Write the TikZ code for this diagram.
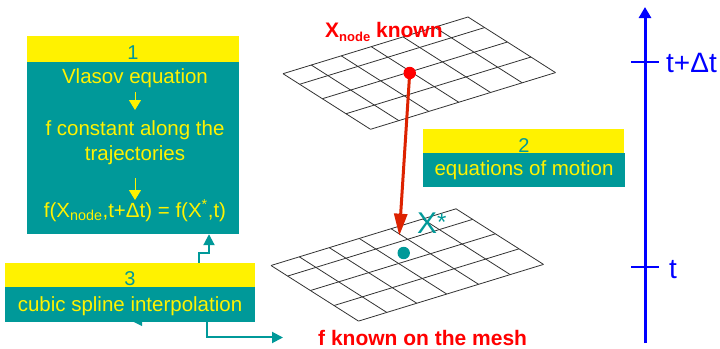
\documentclass[tikz,border=0pt]{standalone}
\usepackage{fontspec}
\setmainfont{Liberation Sans}
\usetikzlibrary{arrows.meta,calc}
\definecolor{tealc}{RGB}{0,153,153}
\definecolor{arrred}{RGB}{221,34,0}
\definecolor{gridc}{RGB}{50,50,50}
\tikzset{
  gridline/.style={draw=gridc, line width=0.8pt},
  mesh/.pic={
    \foreach \a in {0,.153,.315,.477,.649,.82,1}
      \draw[gridline] (\a*185,\a*-56.7) -- ++(87.5,55.6);
    \foreach \b in {0,.19,.45,.72,1}
      \draw[gridline] (\b*87.5,\b*55.6) -- ++(185,-56.7);
  },
  hdrbox/.style={fill=yellow, draw=none, inner sep=0pt},
  bodybox/.style={fill=tealc, draw=none, inner sep=0pt},
  boxtxt/.style={text=yellow, font=\fontsize{20.5}{24}\selectfont, anchor=base, inner sep=0pt},
  numtxt/.style={text=tealc, font=\fontsize{20}{24}\selectfont, anchor=base, inner sep=0pt},
  redlbl/.style={text=red, font=\fontsize{21}{25}\selectfont\bfseries, anchor=base west, inner sep=0pt},
  yarrow/.style={draw=yellow, line width=1pt, -{Triangle[width=12pt,length=10pt]}},
  tarrow/.style={draw=tealc, line width=2pt, -{Triangle[width=11pt,length=11pt]}},
  redarrow/.style={draw=arrred, line width=3pt, -{Triangle[width=13pt,length=22pt]}},
  axisline/.style={draw=blue, line width=3pt},
  tickline/.style={draw=blue, line width=2.5pt},
  axlbl/.style={text=blue, font=\fontsize{28}{32}\selectfont, anchor=base west, inner sep=0pt},
  reddot/.style={circle, fill=red, inner sep=0pt, minimum size=12.4pt},
  tealdot/.style={circle, fill=tealc, inner sep=0pt, minimum size=12.4pt},
}
\begin{document}
\begin{tikzpicture}[x=1pt,y=-1pt]
\useasboundingbox (0,0) rectangle (720,348);

% meshes
\pic (meshtop) at (283,73.7) {mesh};
\pic (meshbot) at (271,265.5) {mesh};

% box 1
\node[hdrbox, minimum width=212pt, minimum height=26pt] (b1h) at (133,49) {};
\node[bodybox, minimum width=212pt, minimum height=172pt] (b1) at (133,148) {};
\node[numtxt] (n1) at (133,59) {1};
\node[boxtxt] (t1a) at (135,83) {Vlasov equation};
\node[boxtxt] (t1b) at (135,135) {f constant along the};
\node[boxtxt] (t1c) at (135,160) {trajectories};
\node[boxtxt] (t1d) at (135,217) {f(X\textsubscript{node},t+Δt) = f(X\textsuperscript{*},t)};
\draw[yarrow] ([yshift=-9pt]t1a.base) -- ([yshift=25pt]t1b.base);
\draw[yarrow] ([yshift=-18pt]t1c.base) -- ([yshift=17pt]t1d.base);

% box 2
\node[hdrbox, minimum width=201pt, minimum height=24pt] (b2h) at (523.5,141) {};
\node[bodybox, minimum width=202pt, minimum height=34pt] (b2) at (524,170) {};
\node[numtxt] (n2) at (524,152) {2};
\node[boxtxt] (t2) at (524,175) {equations of motion};

% box 3
\node[hdrbox, minimum width=250pt, minimum height=24pt] (b3h) at (130,275) {};
\node[bodybox, minimum width=250pt, minimum height=35pt] (b3) at (130,304.5) {};
\fill[tealc] (133,321.5) -- (142,321.5) -- (142,326) -- cycle;
\node[numtxt] (n3) at (130,285) {3};
\node[boxtxt] (t3) at (130,311) {cubic spline interpolation};

% labels
\node[redlbl] (xn) at (325,37) {X\raisebox{-5pt}{\fontsize{13}{13}\selectfont node} known};
\node[redlbl] (fk) at (318,345) {f known on the mesh};
\node[text=tealc, font=\fontsize{30}{36}\selectfont, anchor=base west, inner sep=0pt] (xs) at (417,233) {X{\fontsize{24}{24}\selectfont\raisebox{3pt}{*}}};

% teal connectors
\draw[tarrow] ([xshift=69pt]b3h.north) -- ++(0,-10) -| ([xshift=76pt]b1.south);
\draw[tarrow] ([xshift=77pt]b3.south) |- ([xshift=-35pt]fk.west);

% red arrow and dots
\coordinate (pnode) at (409.7,73);
\coordinate (ptip) at (399.3,235.7);
\draw[redarrow] (pnode) -- (ptip);
\node[reddot] (rd) at (pnode) {};
\node[tealdot] (xd) at (403.7,253) {};

% time axis
\coordinate (axb) at (645,343);
\coordinate (axt) at (645,7);
\draw[axisline, -{Triangle[width=12pt,length=11pt]}] (axb) -- (axt);
\coordinate (tk1a) at (631,62);
\coordinate (tk1b) at (659,62);
\coordinate (tk2a) at (631,267);
\coordinate (tk2b) at (659,267);
\draw[tickline] (tk1a) -- (tk1b);
\draw[tickline] (tk2a) -- (tk2b);
\node[axlbl] (ltdt) at (666,72) {t+Δt};
\node[axlbl] (lt) at (669,278) {t};
\end{tikzpicture}
\end{document}
